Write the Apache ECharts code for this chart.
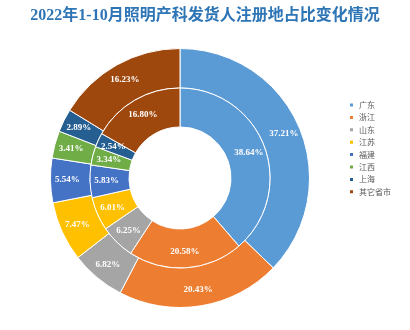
<!DOCTYPE html>
<html><head><meta charset="utf-8">
<script src="https://cdn.jsdelivr.net/npm/echarts@6/dist/echarts.min.js"></script>
<style>html,body{margin:0;padding:0;background:#fff}#c{width:410px;height:330px}</style>
</head><body><div id="c"></div>
<script>
const regions = ['广东','浙江','山东','江苏','福建','江西','上海','其它省市'];
const share2022 = [37.21, 20.43, 6.82, 7.47, 5.54, 3.41, 2.89, 16.23];
const share2021 = [38.64, 20.58, 6.25, 6.01, 5.83, 3.34, 2.54, 16.80];
const seriesNames = ['2022年1-10月', '2021年1-10月'];
const colors = ['#5B9BD5','#ED7D31','#A5A5A5','#FFC000','#4472C4','#70AD47','#255E91','#9E480E'];

const chart = echarts.init(document.getElementById('c'), null, {renderer:'canvas'});
const labelStyle = {
  show: true, position: 'inside', color: '#fff', fontSize: 9, fontWeight: 'bold',
  fontFamily: 'Liberation Serif, Noto Sans CJK SC, serif',
  formatter: p => p.value.toFixed(2) + '%'
};
function mk(vals){ return regions.map((n,i)=>({name:n, value:vals[i]})); }
chart.setOption({
  color: colors,
  animation: false,
  title: {
    text: '2022年1-10月照明产科发货人注册地占比变化情况',
    left: 'center', top: 3,
    textStyle: {color:'#2E75B6', fontSize:16, fontWeight:'bold', fontFamily:'Liberation Serif, Noto Sans CJK SC, serif'}
  },
  legend: {
    orient: 'vertical', left: 343, top: 96,
    itemWidth: 5, itemHeight: 5, itemGap: 4.4,
    icon: 'rect',
    textStyle: {fontSize: 8, color: '#595959', fontFamily:'Noto Sans CJK SC, sans-serif'},
    data: regions
  },
  graphic: [
    {type:'text', left: 183, top: 69, style:{text: seriesNames[0], fill:'#fff', fontSize:10, fontFamily:'Liberation Serif, Noto Sans CJK SC, serif'}},
    {type:'text', left: 183, top: 111, style:{text: seriesNames[1], fill:'#fff', fontSize:10, fontFamily:'Liberation Serif, Noto Sans CJK SC, serif'}}
  ],
  series: [
    {
      name: seriesNames[0], type: 'pie', center: [180, 178], radius: [90, 129.5],
      startAngle: 90, clockwise: true, avoidLabelOverlap: false,
      itemStyle: {borderColor:'#fff', borderWidth:1},
      label: labelStyle, labelLine: {show:false},
      data: mk(share2022)
    },
    {
      name: seriesNames[1], type: 'pie', center: [180, 178], radius: [51, 90],
      startAngle: 90, clockwise: true, avoidLabelOverlap: false,
      itemStyle: {borderColor:'#fff', borderWidth:1},
      label: labelStyle, labelLine: {show:false},
      data: mk(share2021)
    }
  ]
});
</script></body></html>
